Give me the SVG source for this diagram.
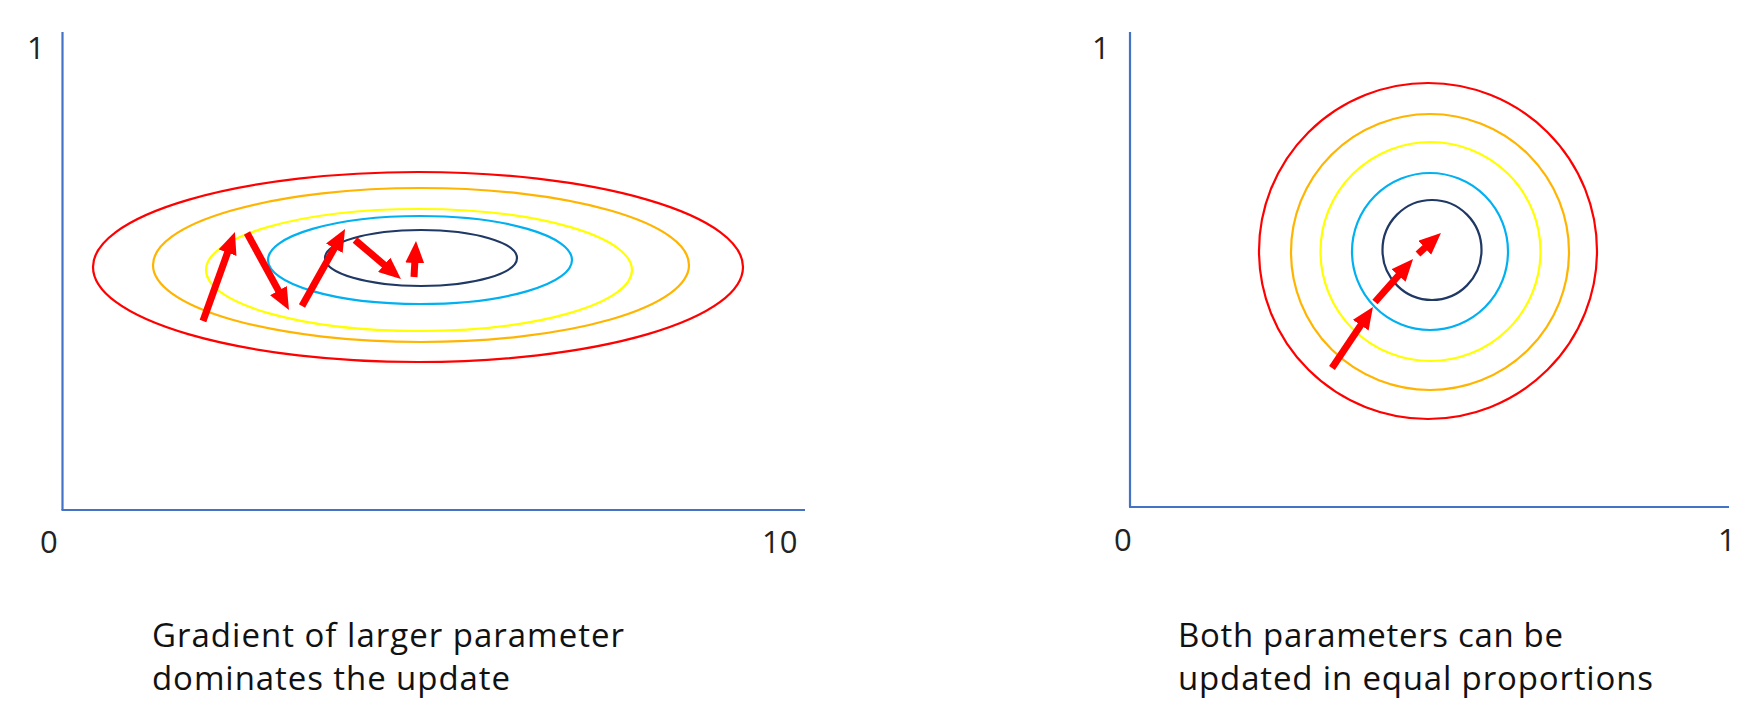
<svg xmlns="http://www.w3.org/2000/svg" width="1753" height="715" viewBox="0 0 1753 715">
<style>
.axis{stroke:#4472C4;stroke-width:2.2;fill:none}
.c{fill:none;stroke-width:2.2}
.red{stroke:#FF0000}.org{stroke:#FFB400}.yel{stroke:#FFFF00}.cya{stroke:#00B0F0}.nav{stroke:#1F3864}
.arr{stroke:#FF0000;stroke-width:7;fill:none;marker-end:url(#ah)}
.lbl{font-family:"Open Sans","Liberation Sans",sans-serif;font-size:31px;fill:#222}
.cap{font-family:"Open Sans","Liberation Sans",sans-serif;font-size:33px;fill:#111}
</style>
<defs>
<marker id="ah" markerUnits="userSpaceOnUse" markerWidth="22" markerHeight="19" viewBox="0 0 22 19" refX="2" refY="9.5" orient="auto">
<path d="M0,0 L22,9.5 L0,19 z" fill="#FF0000"/>
</marker>
</defs>
<g id="left-plot">
<line class="axis" x1="62.5" y1="32" x2="62.5" y2="510"/>
<line class="axis" x1="61.5" y1="510" x2="805" y2="510"/>
<text class="lbl" x="27" y="59">1</text>
<text class="lbl" x="40" y="553">0</text>
<text class="lbl" x="762" y="553">10</text>
</g>
<g id="left-contours">
<ellipse class="c red" cx="418" cy="267" rx="325" ry="95"/>
<ellipse class="c org" cx="421" cy="265" rx="268" ry="77"/>
<ellipse class="c yel" cx="419" cy="270" rx="213" ry="61"/>
<ellipse class="c cya" cx="420" cy="260" rx="152" ry="44"/>
<ellipse class="c nav" cx="421" cy="258" rx="96" ry="28"/>
</g>
<g id="right-plot">
<line class="axis" x1="1130" y1="32" x2="1130" y2="507"/>
<line class="axis" x1="1129" y1="507" x2="1729" y2="507"/>
<text class="lbl" x="1092" y="59">1</text>
<text class="lbl" x="1114" y="551">0</text>
<text class="lbl" x="1718" y="551">1</text>
</g>
<g id="right-contours">
<ellipse class="c red" cx="1428" cy="251" rx="169" ry="168"/>
<ellipse class="c org" cx="1430" cy="252" rx="139" ry="138"/>
<ellipse class="c yel" cx="1430.5" cy="251.5" rx="110" ry="109.5"/>
<ellipse class="c cya" cx="1430" cy="251.5" rx="78" ry="78.5"/>
<ellipse class="c nav" cx="1432" cy="250" rx="49.5" ry="50"/>
</g>
<g id="connectors">
<line class="arr" x1="203" y1="321" x2="228.2" y2="250.8"/>
<line class="arr" x1="247" y1="233" x2="279.4" y2="292.4"/>
<line class="arr" x1="302" y1="306" x2="335.3" y2="246.5"/>
<line class="arr" x1="355" y1="240" x2="385.7" y2="266.1"/>
<line class="arr" x1="414" y1="277" x2="414.9" y2="261"/>
<line class="arr" x1="1332" y1="368" x2="1361.8" y2="323.6"/>
<line class="arr" x1="1375" y1="302" x2="1399.8" y2="274"/>
<line class="arr" x1="1418" y1="254" x2="1426.2" y2="246.5"/>
</g>
<g id="caption-left">
<text class="cap" x="152" y="647" textLength="472" lengthAdjust="spacing">Gradient of larger parameter</text>
<text class="cap" x="152" y="690" textLength="358" lengthAdjust="spacing">dominates the update</text>
</g>
<g id="caption-right">
<text class="cap" x="1178" y="647" textLength="385" lengthAdjust="spacing">Both parameters can be</text>
<text class="cap" x="1178" y="690" textLength="475" lengthAdjust="spacing">updated in equal proportions</text>
</g>
</svg>
